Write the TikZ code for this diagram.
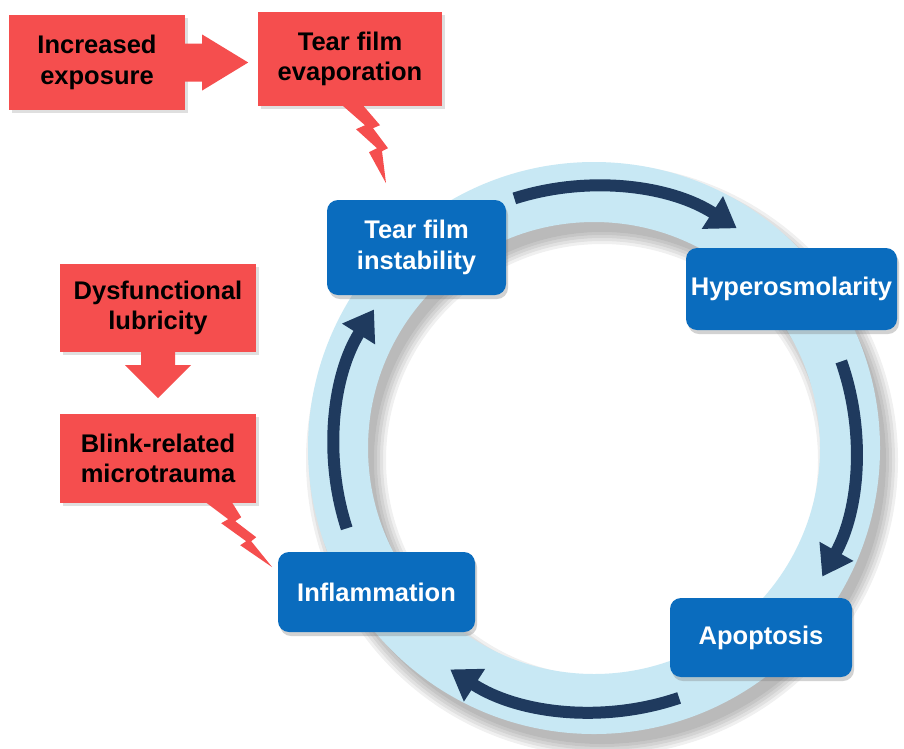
\documentclass[tikz,border=0pt]{standalone}
\usepackage{fontspec}
\setmainfont{Liberation Sans}
\usetikzlibrary{arrows.meta,calc,shadows}
\definecolor{ringc}{HTML}{C8E8F4}
\definecolor{boxb}{HTML}{0A6CBE}
\definecolor{arrc}{HTML}{1F3A5E}
\definecolor{redc}{HTML}{F54E4E}
\begin{document}
\begin{tikzpicture}[x=1pt,y=-1pt,
  txt/.style={font=\fontsize{25.5}{30.5}\selectfont\bfseries, align=center, inner sep=0pt},
  bluebox/.style={txt, fill=boxb, rounded corners=11pt, text=white,
    drop shadow={opacity=0.35, shadow xshift=2pt, shadow yshift=-4pt}},
  redbox/.style={txt, fill=redc, text=black,
    drop shadow={opacity=0.25, shadow xshift=3pt, shadow yshift=-3pt}},
  redshape/.style={fill=redc},
  cyc/.style={arrc, line width=12pt, -{Triangle[width=37pt,length=29pt]}}
]
\fill[white] (0,0) rectangle (904,748);
\useasboundingbox (0,0) rectangle (904,748);

% ring with soft shadow
\coordinate (c) at (594,448);
\foreach \d in {0,3,6,9,12}{
  \fill[black, opacity=0.06, even odd rule] ($(c)+(8,12)$) circle[radius=284+\d] circle[radius=228-\d];
}
\fill[ringc, even odd rule] (c) circle[radius=286] circle[radius=226];

% cycle arrows
\draw[cyc] ($(c)+(-107.7:262)$) arc[start angle=-107.7, end angle=-57, radius=262];
\draw[cyc] ($(c)+(-19.3:262)$) arc[start angle=-19.3, end angle=29.4, radius=262];
\draw[cyc] ($(c)+(71.2:264)$) arc[start angle=71.2, end angle=123, radius=264];
\draw[cyc] ($(c)+(162:260)$) arc[start angle=162, end angle=212.2, radius=260];

% blue boxes
\node[bluebox, minimum width=179pt, minimum height=95pt] (tfi) at (416.5,247.5) {Tear film\\instability};
\node[bluebox, minimum width=211pt, minimum height=82pt] (hyp) at (791.5,289) {Hyperosmolarity};
\node[bluebox, minimum width=182pt, minimum height=79pt] (apo) at (761,637.5) {Apoptosis};
\node[bluebox, minimum width=197pt, minimum height=80pt] (inf) at (376.5,592) {Inflammation};

% red boxes
\node[redbox, minimum width=176pt, minimum height=95pt] (inc) at (97,62.5) {Increased\\exposure};
\node[redbox, minimum width=184pt, minimum height=94pt] (tfe) at (350,59) {Tear film\\evaporation};
\node[redbox, minimum width=196pt, minimum height=88pt] (dys) at (158,308) {Dysfunctional\\lubricity};
\node[redbox, minimum width=196pt, minimum height=89pt] (blk) at (158,458.5) {Blink-related\\microtrauma};

% block arrows
\fill[redshape] ($(inc.east)+(-1,-19)$) -- ++(18,0) -- ++(0,-9) -- ($(inc.east)+(63,0)$)
  -- ($(inc.east)+(17,28)$) -- ++(0,-9) -- ($(inc.east)+(-1,19)$) -- cycle;
\fill[redshape] ($(dys.south)+(-17,-1)$) -- ++(34,0) -- ++(0,14) -- ++(16,0)
  -- ($(dys.south)+(0,46)$) -- ($(dys.south)+(-33,13)$) -- ++(16,0) -- cycle;

% lightning callouts
\fill[redshape] ($(tfe.south)+(-9,-2)$) -- ($(tfe.south)+(15,19)$) -- ($(tfe.south)+(6,23)$)
  -- ($(tfe.south)+(27,42)$) -- ($(tfe.south)+(19,46)$) -- ($(tfe.south)+(36,77)$)
  -- ($(tfe.south)+(32,45)$) -- ($(tfe.south)+(38,42)$) -- ($(tfe.south)+(23,22)$)
  -- ($(tfe.south)+(30,19)$) -- ($(tfe.south)+(12,-2)$) -- cycle;
\fill[redshape] ($(blk.south east)+(-52,-2)$) -- ($(blk.south east)+(-28,16)$) -- ($(blk.south east)+(-35,20)$)
  -- ($(blk.south east)+(-10,38)$) -- ($(blk.south east)+(-16,42)$) -- ($(blk.south east)+(16,64)$)
  -- ($(blk.south east)+(-5,38)$) -- ($(blk.south east)+(0,34)$) -- ($(blk.south east)+(-21,18)$)
  -- ($(blk.south east)+(-15,14)$) -- ($(blk.south east)+(-25,-2)$) -- cycle;
\end{tikzpicture}
\end{document}
